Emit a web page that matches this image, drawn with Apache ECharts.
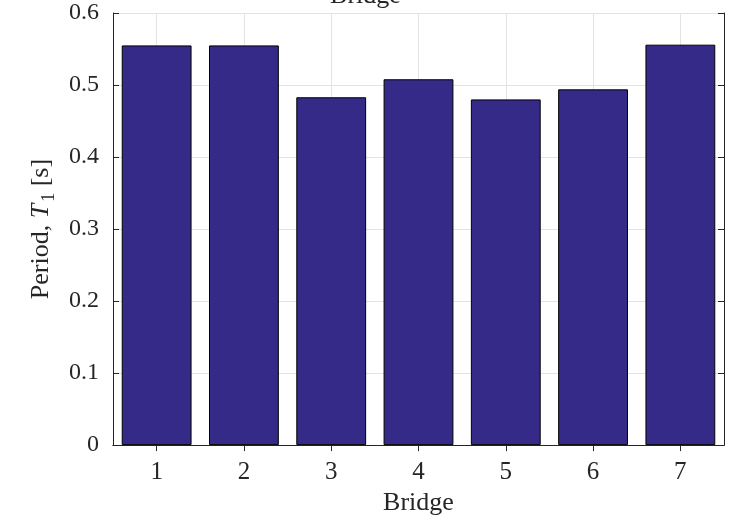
<!DOCTYPE html>
<html>
<head>
<meta charset="utf-8">
<script src="https://cdn.jsdelivr.net/npm/echarts@6/dist/echarts.min.js"></script>
<style>
  html, body { margin: 0; padding: 0; background: #fff; }
  #chart { width: 731px; height: 521px; }
</style>
</head>
<body>
<div id="chart"></div>
<script>
// Fundamental period of each bridge
const bridges = ['1', '2', '3', '4', '5', '6', '7'];
const periods = [0.555, 0.555, 0.483, 0.508, 0.480, 0.494, 0.556];
const yTicks = { min: 0, max: 0.6, step: 0.1 };

const FONT = '"Liberation Serif", "Times New Roman", serif';
const INK = '#262626';
const GRID = '#e3e3e3';

const chart = echarts.init(document.getElementById('chart'), null, { renderer: 'canvas' });

const tickStyle = { show: true, inside: true, length: 6, lineStyle: { color: INK, width: 1 } };

chart.setOption({
  animation: false,
  backgroundColor: '#ffffff',
  title: {
    text: 'Bridge',
    left: 'center',
    top: -22,
    textStyle: { fontFamily: FONT, fontSize: 26, fontWeight: 'normal', color: INK }
  },
  grid: { left: 113, right: 7, top: 13, bottom: 71, containLabel: false },
  xAxis: [
    {
      type: 'category',
      data: bridges,
      position: 'bottom',
      boundaryGap: true,
      name: 'Bridge',
      nameLocation: 'middle',
      nameGap: 42,
      nameTextStyle: { fontFamily: FONT, fontSize: 26, color: INK },
      axisLine: { show: true, lineStyle: { color: INK, width: 1 } },
      axisTick: Object.assign({ alignWithLabel: true }, tickStyle),
      axisLabel: { fontFamily: FONT, fontSize: 25, color: INK, margin: 15 },
      splitLine: { show: true, alignWithLabel: true, lineStyle: { color: GRID, width: 1 } }
    },
    {
      type: 'category',
      data: bridges,
      position: 'top',
      boundaryGap: true,
      axisLine: { show: true, lineStyle: { color: INK, width: 1 } },
      axisTick: Object.assign({ alignWithLabel: true }, tickStyle),
      axisLabel: { show: false },
      splitLine: { show: false }
    }
  ],
  yAxis: [
    {
      type: 'value',
      min: yTicks.min,
      max: yTicks.max,
      interval: yTicks.step,
      position: 'left',
      name: '{n|Period, }{i|T}{s|1}{n| [s]}',
      nameLocation: 'middle',
      nameGap: 50,
      nameRotate: 90,
      nameTextStyle: {
        rich: {
          n: { fontFamily: FONT, fontSize: 26, lineHeight: 30, verticalAlign: 'top', color: INK },
          i: { fontFamily: FONT, fontSize: 26, lineHeight: 30, verticalAlign: 'top', fontStyle: 'italic', color: INK },
          s: { fontFamily: FONT, fontSize: 18, lineHeight: 18, verticalAlign: 'bottom', color: INK, padding: [17, 0, 0, 2] }
        }
      },
      axisLine: { show: true, lineStyle: { color: INK, width: 1 } },
      axisTick: tickStyle,
      axisLabel: {
        fontFamily: FONT, fontSize: 24, color: INK, margin: 14,
        formatter: v => (v === 0 ? '0' : v.toFixed(1))
      },
      splitLine: { show: true, lineStyle: { color: GRID, width: 1 } }
    },
    {
      type: 'value',
      min: yTicks.min,
      max: yTicks.max,
      interval: yTicks.step,
      position: 'right',
      axisLine: { show: true, lineStyle: { color: INK, width: 1 } },
      axisTick: tickStyle,
      axisLabel: { show: false },
      splitLine: { show: false }
    }
  ],
  series: [
    {
      type: 'bar',
      data: periods,
      xAxisIndex: 0,
      yAxisIndex: 0,
      barCategoryGap: '20%',
      itemStyle: { color: '#352a87', borderColor: '#000000', borderWidth: 1 },
      z: 3
    }
  ]
});
</script>
</body>
</html>
